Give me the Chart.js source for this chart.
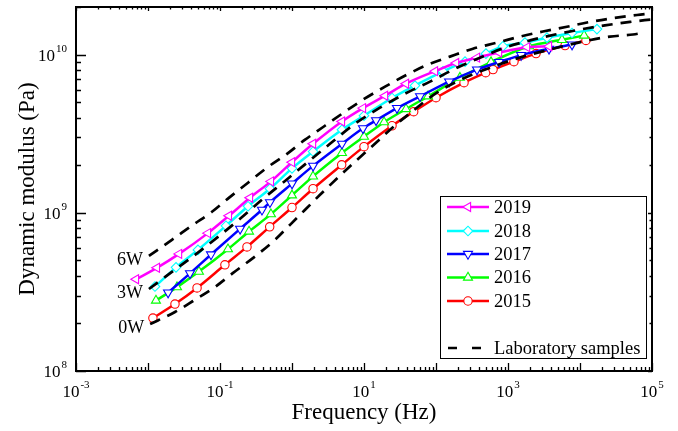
<!DOCTYPE html>
<html>
<head>
<meta charset="utf-8">
<script src="https://cdn.jsdelivr.net/npm/chart.js@4.4.0/dist/chart.umd.min.js"></script>
<style>
  html, body { margin: 0; padding: 0; background: #fff; }
  #wrap { width: 678px; height: 431px; }
</style>
</head>
<body>
<div id="wrap"><canvas id="chart" width="678" height="431"></canvas></div>
<script>
// Frequency (Hz) and dynamic modulus (Pa)
const f2015 = [0.0117, 0.0237, 0.048, 0.117, 0.237, 0.49, 1.0, 1.96, 4.9, 10, 24.5, 49, 100, 245, 490, 620, 1210, 2450, 6200, 12100]
const e2015 = [2.16e8, 2.65e8, 3.35e8, 4.69e8, 6.09e8, 8.15e8, 1.08e9, 1.42e9, 2.01e9, 2.62e9, 3.55e9, 4.36e9, 5.34e9, 6.65e9, 7.69e9, 8.04e9, 9.03e9, 1.015e10, 1.14e10, 1.23e10]

const f2016 = [0.0129, 0.0253, 0.051, 0.129, 0.253, 0.51, 1.0, 1.96, 4.94, 10, 19, 38.3, 77.4, 215, 581, 1960, 5620, 11400]
const e2016 = [2.79e8, 3.39e8, 4.25e8, 5.89e8, 7.62e8, 9.81e8, 1.29e9, 1.70e9, 2.39e9, 3.03e9, 3.74e9, 4.53e9, 5.45e9, 7.15e9, 8.97e9, 1.13e10, 1.24e10, 1.32e10]

const f2017 = [0.019, 0.0383, 0.075, 0.19, 0.383, 0.494, 1.0, 1.96, 4.94, 9.68, 14.7, 28.7, 60, 152, 371, 750, 1520, 3710, 7750]
const e2017 = [3.13e8, 4.14e8, 5.45e8, 7.92e8, 1.045e9, 1.165e9, 1.53e9, 1.98e9, 2.73e9, 3.42e9, 3.84e9, 4.59e9, 5.45e9, 6.75e9, 8.04e9, 8.97e9, 9.93e9, 1.087e10, 1.157e10]

const f2018 = [0.0125, 0.0245, 0.0494, 0.121, 0.245, 0.494, 1.0, 1.96, 4.94, 10, 24.5, 51, 125, 253, 494, 853, 1720, 3480, 7750, 17200]
const e2018 = [3.42e8, 4.52e8, 5.83e8, 8.28e8, 1.10e9, 1.42e9, 1.91e9, 2.44e9, 3.35e9, 4.11e9, 5.32e9, 6.37e9, 7.84e9, 9.03e9, 1.015e10, 1.13e10, 1.19e10, 1.28e10, 1.37e10, 1.45e10]

const f2019 = [0.00681, 0.0133, 0.027, 0.068, 0.133, 0.261, 0.51, 1.0, 1.96, 4.94, 9.68, 19.6, 38.3, 96.8, 190, 371, 750, 1840, 3710]
const e2019 = [3.80e8, 4.49e8, 5.50e8, 7.44e8, 9.57e8, 1.245e9, 1.58e9, 2.09e9, 2.73e9, 3.78e9, 4.59e9, 5.50e9, 6.55e9, 7.86e9, 8.86e9, 9.57e9, 1.03e10, 1.115e10, 1.13e10]

// laboratory sample curves (dashed)
const f6W = [0.0103, 0.0215, 0.0422, 0.0774, 0.129, 0.245, 0.45, 0.853, 1.52, 2.87, 5.45, 9.68, 19.6, 39.5, 77.4, 156, 326, 703, 1470, 3060, 6590, 13800, 28700, 61900, 100000]
const e6W = [5.34e8, 6.75e8, 8.40e8, 1.015e9, 1.23e9, 1.55e9, 1.93e9, 2.36e9, 2.90e9, 3.55e9, 4.36e9, 5.19e9, 6.27e9, 7.47e9, 8.65e9, 9.71e9, 1.09e10, 1.19e10, 1.30e10, 1.40e10, 1.50e10, 1.61e10, 1.70e10, 1.78e10, 1.82e10]

const f3W = [0.0103, 0.0215, 0.045, 0.0938, 0.19, 0.383, 0.80, 1.61, 3.37, 7.5, 16.7, 37.1, 82.5, 184, 408, 908, 2020, 4500, 10000, 22200, 49500, 100000]
const e3W = [3.30e8, 4.23e8, 5.42e8, 7.05e8, 9.16e8, 1.21e9, 1.59e9, 2.07e9, 2.73e9, 3.66e9, 4.62e9, 5.66e9, 6.75e9, 8.15e9, 9.57e9, 1.107e10, 1.23e10, 1.34e10, 1.44e10, 1.53e10, 1.61e10, 1.67e10]

const f0W = [0.0107, 0.0237, 0.0422, 0.0853, 0.152, 0.327, 0.581, 0.88, 1.52, 2.45, 4.35, 8.0, 15.2, 23, 46.4, 103, 237, 619, 1610, 4220, 11000, 26100, 54500, 80000]
const e0W = [1.98e8, 2.36e8, 2.77e8, 3.40e8, 4.17e8, 5.42e8, 6.75e8, 8.15e8, 1.045e9, 1.30e9, 1.67e9, 2.16e9, 2.81e9, 3.35e9, 4.36e9, 5.75e9, 7.05e9, 8.40e9, 9.71e9, 1.09e10, 1.21e10, 1.30e10, 1.34e10, 1.38e10]

// axis ticks
const xDecades = [-3, -2, -1, 0, 1, 2, 3, 4, 5]
const xLabelExp = ["-3", "-1", "1", "3", "5"]
const yDecades = [8, 9, 10]
const yLabelExp = ["8", "9", "10"]
const curveLabels = ["6W", "3W", "0W"]

const serif = '"Liberation Serif", "Times New Roman", serif'

const zip = (xs, ys) => xs.map((x, i) => ({ x: x, y: ys[i] }))

function series(label, fs, es, color, style, rotation, radius) {
  return {
    label: label,
    data: zip(fs, es),
    borderColor: color,
    backgroundColor: color,
    borderWidth: 2.5,
    pointStyle: style,
    rotation: rotation,
    pointRadius: radius,
    pointBorderWidth: 1.1,
    pointBackgroundColor: '#fff',
    pointBorderColor: color,
    cubicInterpolationMode: 'monotone'
  }
}

function labCurve(name, fs, es) {
  return {
    label: name,
    lab: true,
    data: zip(fs, es),
    borderColor: '#000',
    borderWidth: 2.7,
    borderDash: [11, 8],
    pointRadius: 0,
    cubicInterpolationMode: 'monotone'
  }
}

const datasets = [
  labCurve('6W', f6W, e6W),
  labCurve('3W', f3W, e3W),
  labCurve('0W', f0W, e0W),
  series('2019', f2019, e2019, '#ff00ff', 'triangle', -90, 5.2),
  series('2018', f2018, e2018, '#00ffff', 'rectRot', 0, 4.8),
  series('2017', f2017, e2017, '#0000ff', 'triangle', 180, 5.2),
  series('2016', f2016, e2016, '#00ff00', 'triangle', 0, 5.2),
  series('2015', f2015, e2015, '#ff0000', 'circle', 0, 4.2)
]

function supText(ctx, exp, x, y, align) {
  ctx.textAlign = 'left'
  ctx.textBaseline = 'middle'
  ctx.font = '17px ' + serif
  const wb = ctx.measureText('10').width
  ctx.font = '11px ' + serif
  const we = ctx.measureText(exp).width
  const x0 = align === 'right' ? x - wb - we - 1 : x - (wb + we + 1) / 2
  ctx.font = '17px ' + serif
  ctx.fillText('10', x0, y)
  ctx.font = '11px ' + serif
  ctx.fillText(exp, x0 + wb + 1, y - 8)
}

const framePlugin = {
  id: 'frame',
  afterDraw(chart) {
    const { ctx, chartArea: a } = chart
    const xs = chart.scales.x, ys = chart.scales.y
    ctx.save()
    ctx.strokeStyle = '#000'
    ctx.fillStyle = '#000'
    ctx.lineWidth = 2
    ctx.strokeRect(a.left, a.top, a.right - a.left, a.bottom - a.top)

    // x ticks, inward
    ctx.lineWidth = 1.3
    ctx.beginPath()
    xDecades.forEach(n => {
      const px = Math.round(xs.getPixelForValue(Math.pow(10, n))) + 0.5
      ctx.moveTo(px, a.bottom); ctx.lineTo(px, a.bottom - 8)
      ctx.moveTo(px, a.top); ctx.lineTo(px, a.top + 4)
      if (n < 5) {
        for (let k = 2; k <= 9; k++) {
          const q = Math.round(xs.getPixelForValue(k * Math.pow(10, n))) + 0.5
          ctx.moveTo(q, a.bottom); ctx.lineTo(q, a.bottom - 4)
          ctx.moveTo(q, a.top); ctx.lineTo(q, a.top + 2.5)
        }
      }
    })
    // y ticks, inward
    yDecades.forEach(n => {
      const py = Math.round(ys.getPixelForValue(Math.pow(10, n))) + 0.5
      ctx.moveTo(a.left, py); ctx.lineTo(a.left + 10, py)
      ctx.moveTo(a.right, py); ctx.lineTo(a.right - 4, py)
      const top = n < 10 ? 9 : 2
      for (let k = 2; k <= top; k++) {
        const q = Math.round(ys.getPixelForValue(k * Math.pow(10, n))) + 0.5
        ctx.moveTo(a.left, q); ctx.lineTo(a.left + 5, q)
        ctx.moveTo(a.right, q); ctx.lineTo(a.right - 2.5, q)
      }
    })
    ctx.stroke()

    // tick labels
    xLabelExp.forEach(e => {
      const px = xs.getPixelForValue(Math.pow(10, Number(e)))
      supText(ctx, e, px, a.bottom + 22, 'center')
    })
    yLabelExp.forEach(e => {
      const py = ys.getPixelForValue(Math.pow(10, Number(e)))
      supText(ctx, e, a.left - 9, py + 2, 'right')
    })

    // axis titles
    ctx.font = '23px ' + serif
    ctx.textAlign = 'center'
    ctx.textBaseline = 'middle'
    ctx.fillText('Frequency (Hz)', (a.left + a.right) / 2, 413)
    ctx.save()
    ctx.translate(28, (a.top + a.bottom) / 2)
    ctx.rotate(-Math.PI / 2)
    ctx.fillText('Dynamic modulus (Pa)', 0, 0)
    ctx.restore()

    // labels next to the laboratory curves
    ctx.font = '18px ' + serif
    ctx.textAlign = 'right'
    chart.data.datasets.filter(d => d.lab).forEach((d, i) => {
      const p = d.data[0]
      ctx.fillText(curveLabels[i], xs.getPixelForValue(p.x) - 6, ys.getPixelForValue(p.y) + 4)
    })

    // legend box
    const lx = 440, ly = 196, lw = 206, lh = 162
    ctx.fillStyle = '#fff'
    ctx.fillRect(lx, ly, lw, lh)
    ctx.lineWidth = 1
    ctx.strokeStyle = '#000'
    ctx.strokeRect(lx + 0.5, ly + 0.5, lw, lh)
    const rows = [207, 231, 254, 277.5, 301]
    const colored = chart.data.datasets.filter(d => !d.lab)
    ctx.textAlign = 'left'
    colored.forEach((d, i) => {
      const yy = rows[i]
      ctx.strokeStyle = d.borderColor
      ctx.lineWidth = 2.5
      ctx.beginPath(); ctx.moveTo(447, yy); ctx.lineTo(489, yy); ctx.stroke()
      ctx.fillStyle = '#fff'
      ctx.lineWidth = 1.1
      Chart.helpers.drawPoint(ctx, { pointStyle: d.pointStyle, rotation: d.rotation, radius: d.pointRadius, borderWidth: 1.1 }, 468, yy)
      ctx.fillStyle = '#000'
      ctx.font = '18.5px ' + serif
      ctx.fillText(d.label, 494, yy + 1)
    })
    ctx.strokeStyle = '#000'
    ctx.lineWidth = 2.7
    ctx.setLineDash([9, 15])
    ctx.beginPath(); ctx.moveTo(448, 348); ctx.lineTo(481, 348); ctx.stroke()
    ctx.setLineDash([])
    ctx.fillStyle = '#000'
    ctx.fillText('Laboratory samples', 494, 349)
    ctx.restore()
  }
}

new Chart(document.getElementById('chart'), {
  type: 'line',
  data: { datasets: datasets },
  options: {
    responsive: false,
    animation: false,
    devicePixelRatio: 1,
    layout: { padding: { top: 7, right: 26, left: 0, bottom: 0 } },
    plugins: { legend: { display: false }, tooltip: { enabled: false } },
    scales: {
      x: {
        type: 'logarithmic', min: 1e-3, max: 1e5,
        ticks: { display: false },
        grid: { display: false },
        border: { display: false },
        afterFit(s) { s.height = 60 }
      },
      y: {
        type: 'logarithmic', min: 1e8, max: 2e10,
        ticks: { display: false },
        grid: { display: false },
        border: { display: false },
        afterFit(s) { s.width = 76 }
      }
    }
  },
  plugins: [framePlugin]
})
</script>
</body>
</html>
